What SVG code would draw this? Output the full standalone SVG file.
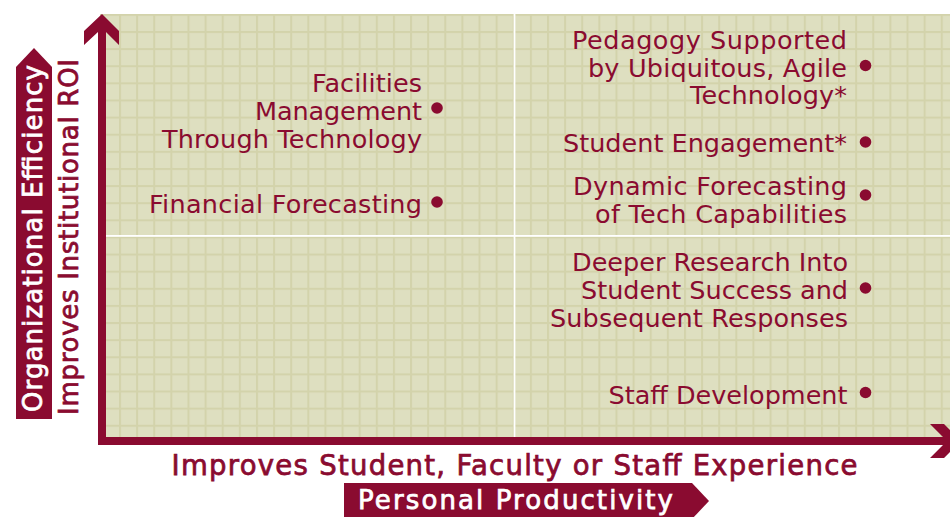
<svg xmlns="http://www.w3.org/2000/svg" width="950" height="517" viewBox="0 0 950 517">
  <defs>
    <pattern id="grid" patternUnits="userSpaceOnUse" x="119" y="31" width="17.12" height="17.12">
      <rect x="0" y="0" width="17.12" height="17.12" fill="#dedfc0"/>
      <rect x="0" y="0" width="2" height="17.12" fill="#d3d3ab"/>
      <rect x="0" y="0" width="17.12" height="2" fill="#d3d3ab"/>
    </pattern>
    <style>
      .lbl { font-family: "DejaVu Sans", "Liberation Sans", sans-serif; font-size: 25.5px; fill: #8a0b30; }
      .r { text-anchor: end; }
      .dot { fill: #8a0b30; }
      .axis { font-family: "DejaVu Sans", "Liberation Sans", sans-serif; font-size: 26px; text-anchor: middle; stroke-width: 0.75; }
      .red { fill: #8a0b30; stroke: #8a0b30; }
      .white { fill: #ffffff; stroke: #ffffff; }
      .band { fill: #8a0b30; }
      .divider { fill: #ffffff; }
    </style>
  </defs>
  <rect width="950" height="517" fill="#ffffff"/>
  <g id="plot-area">
    <rect x="100" y="14" width="850" height="425" fill="url(#grid)"/>
    <rect class="divider" x="513.6" y="14" width="1.8" height="424"/>
    <rect class="divider" x="106" y="235" width="844" height="1.8"/>
  </g>
  <g id="connectors">
    <polygon class="band" points="102,14 119,31 119,45 106,32 106,437 943,437 930,424 944,424 961,441 944,458 930,458 943,445 98,445 98,32 84,45 84,31"/>
  </g>
  <g id="y-axis-label">
    <polygon class="band" points="16,419 16,67 34,48 52,67 52,419"/>
    <text class="axis white" transform="translate(42,238.5) rotate(-90)" textLength="347" lengthAdjust="spacing">Organizational Efficiency</text>
    <text class="axis red" transform="translate(78,237) rotate(-90)" textLength="356" lengthAdjust="spacing">Improves Institutional ROI</text>
  </g>
  <g id="x-axis-label">
    <text class="axis red" x="514.5" y="475" style="font-size:27.5px" textLength="686" lengthAdjust="spacing">Improves Student, Faculty or Staff Experience</text>
    <polygon class="band" points="344,483 692,483 709,501 692,519 344,519"/>
    <text class="axis white" x="515.5" y="508.5" textLength="315" lengthAdjust="spacing">Personal Productivity</text>
  </g>
  <g id="facilities">
    <text class="lbl r" x="422" y="92" textLength="110" lengthAdjust="spacing">Facilities</text>
    <text class="lbl r" x="422" y="120" textLength="167" lengthAdjust="spacing">Management</text>
    <text class="lbl r" x="422" y="148" textLength="260" lengthAdjust="spacing">Through Technology</text>
    <circle class="dot" cx="437" cy="108" r="5.8"/>
  </g>
  <g id="financial">
    <text class="lbl r" x="422" y="213" textLength="273" lengthAdjust="spacing">Financial Forecasting</text>
    <circle class="dot" cx="437" cy="202" r="5.8"/>
  </g>
  <g id="pedagogy">
    <text class="lbl r" x="847" y="48.5" textLength="275" lengthAdjust="spacing">Pedagogy Supported</text>
    <text class="lbl r" x="847" y="76.5" textLength="259" lengthAdjust="spacing">by Ubiquitous, Agile</text>
    <text class="lbl r" x="847" y="104" textLength="157" lengthAdjust="spacing">Technology*</text>
    <circle class="dot" cx="865.5" cy="65.5" r="5.8"/>
  </g>
  <g id="engagement">
    <text class="lbl r" x="847" y="151.5" textLength="284" lengthAdjust="spacing">Student Engagement*</text>
    <circle class="dot" cx="865.5" cy="142" r="5.8"/>
  </g>
  <g id="dynamic">
    <text class="lbl r" x="847" y="195" textLength="274" lengthAdjust="spacing">Dynamic Forecasting</text>
    <text class="lbl r" x="847" y="222.5" textLength="252" lengthAdjust="spacing">of Tech Capabilities</text>
    <circle class="dot" cx="865.5" cy="195" r="5.8"/>
  </g>
  <g id="research">
    <text class="lbl r" x="848" y="271" textLength="276" lengthAdjust="spacing">Deeper Research Into</text>
    <text class="lbl r" x="848" y="299" textLength="267" lengthAdjust="spacing">Student Success and</text>
    <text class="lbl r" x="848" y="327" textLength="298" lengthAdjust="spacing">Subsequent Responses</text>
    <circle class="dot" cx="865.5" cy="288" r="5.8"/>
  </g>
  <g id="staff">
    <text class="lbl r" x="847.5" y="403.5" textLength="239" lengthAdjust="spacing">Staff Development</text>
    <circle class="dot" cx="865.5" cy="392.5" r="5.8"/>
  </g>
</svg>
